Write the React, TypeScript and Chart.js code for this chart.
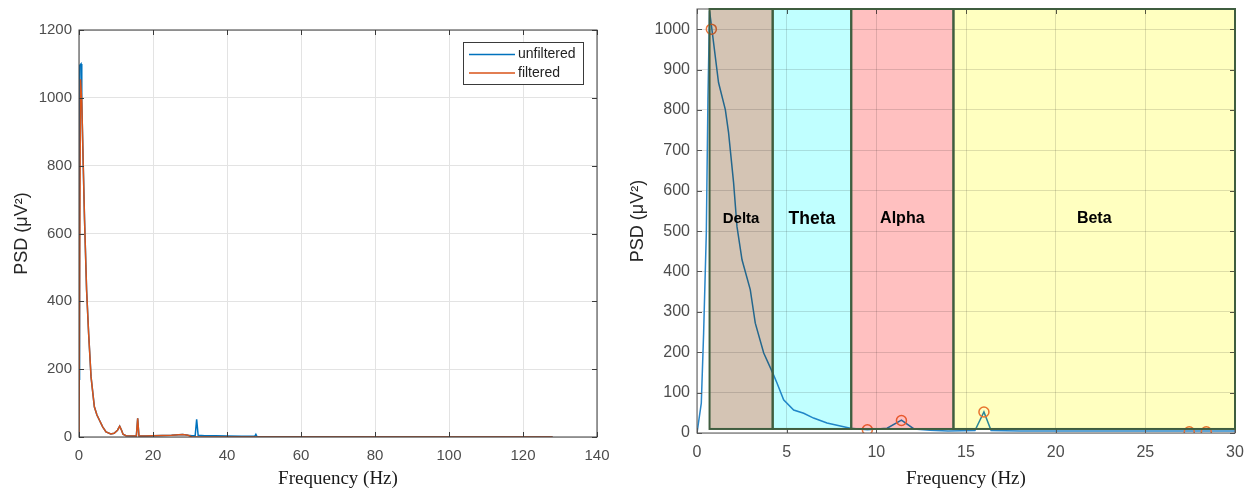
import React, { useEffect, useRef } from 'react';
import { Chart, registerables } from 'chart.js';

Chart.register(...registerables);

// ---------- Left chart data ----------
const leftXTicksMax = 140;
const leftYTicksMax = 1200;

const unfilteredFreq = [0, 0.15, 0.55, 0.75, 1.15, 1.5, 2.05, 2.6, 3.25, 4.15, 4.85, 5.5, 6.4, 7.3, 8.6, 9.5, 10.4, 11.0, 11.5, 11.9, 12.7, 15.5, 15.86, 16.2, 18, 20, 25, 28, 29.5, 30.5, 31.4, 31.8, 32.2, 34, 37, 40, 44, 47.5, 47.8, 48.1, 52, 128];
const unfilteredPsd = [170, 1095, 1100, 990, 800, 640, 434, 306, 178, 89, 65, 50, 30, 15, 9, 11, 20, 32, 20, 8, 4, 3, 55, 3, 3, 4, 5, 7, 5, 4, 4, 52, 5, 4, 4, 3, 2, 2, 8, 1, 0.5, 0];

const filteredFreq = [0, 0.4, 0.75, 1.15, 1.5, 2.05, 2.6, 3.25, 4.15, 4.85, 5.5, 6.4, 7.3, 8.6, 9.5, 10.4, 11.0, 11.5, 11.9, 12.7, 15.5, 15.86, 16.2, 18, 20, 25, 28, 29.5, 30.5, 128];
const filteredPsd = [0, 1055, 990, 800, 640, 434, 306, 178, 89, 65, 50, 30, 15, 9, 11, 20, 32, 20, 8, 4, 3, 55, 3, 3, 4, 5, 7, 5, 0, 0];

const legendLabels = ['unfiltered', 'filtered'];

// ---------- Right chart data ----------
const rightXMax = 30;
const rightYMax = 1050;

const psdFreq = [0, 0.24, 0.37, 0.52, 0.61, 0.7, 0.83, 1.2, 1.58, 1.76, 2.04, 2.23, 2.51, 2.97, 3.25, 3.72, 4.22, 4.46, 4.83, 5.39, 5.95, 6.5, 7.25, 8.55, 9.5, 10.6, 11.4, 12.1, 13, 14, 15.5, 16.0, 16.4, 18, 20, 22, 25, 27, 28, 30];
const psdValue = [0, 74, 248, 496, 826, 1045, 1000, 868, 801, 744, 620, 511, 429, 355, 272, 198, 149, 124, 82, 57, 49, 37, 25, 12, 8, 12, 32, 10, 7, 5, 6, 52, 6, 5, 5, 5, 5, 5, 5, 5];

const peakFreq = [0.8, 9.5, 11.4, 16.0, 27.45, 28.4];
const peakPsd = [1000, 8, 31, 52, 3, 3];

const bandNames = ['Delta', 'Theta', 'Alpha', 'Beta'];
const bandEdges = [0.7, 4.22, 8.6, 14.3, 30];
const bandBottom = 10;
const bandTop = 1050;

// ---------- styles ----------
const SANS = "'Liberation Sans', Arial, Helvetica, sans-serif";
const SERIF = "'Liberation Serif', 'Times New Roman', serif";
const BAND_COLORS = ['#d4c4b4', '#c0ffff', '#ffc0c0', '#ffffc0'];
const BAND_FONT_SIZES = [15, 17.5, 16, 16];

function drawFrame(chart: any, color: string, tickLen: number) {
  const { ctx, chartArea, scales } = chart;
  const { left, right, top, bottom } = chartArea;
  ctx.save();
  ctx.strokeStyle = color;
  ctx.lineWidth = 1;
  ctx.beginPath();
  scales.x.ticks.forEach((t: any) => {
    const px = Math.round(scales.x.getPixelForValue(t.value)) + 0.5;
    ctx.moveTo(px, bottom);
    ctx.lineTo(px, bottom - tickLen);
    ctx.moveTo(px, top);
    ctx.lineTo(px, top + tickLen);
  });
  scales.y.ticks.forEach((t: any) => {
    const py = Math.round(scales.y.getPixelForValue(t.value)) + 0.5;
    ctx.moveTo(left, py);
    ctx.lineTo(left + tickLen, py);
    ctx.moveTo(right, py);
    ctx.lineTo(right - tickLen, py);
  });
  ctx.stroke();
  ctx.strokeRect(left, top, right - left, bottom - top);
  ctx.restore();
}

const leftFramePlugin = {
  id: 'leftFrame',
  afterDraw(chart: any) {
    drawFrame(chart, '#3a3a3a', 5);
    const { ctx, chartArea } = chart;
    const w = 120;
    const h = 42;
    const bx = chartArea.right - 14 - w;
    const by = chartArea.top + 12;
    ctx.save();
    ctx.fillStyle = '#ffffff';
    ctx.fillRect(bx, by, w, h);
    ctx.strokeStyle = '#3a3a3a';
    ctx.lineWidth = 1;
    ctx.strokeRect(bx + 0.5, by + 0.5, w, h);
    ctx.font = `14px ${SANS}`;
    ctx.textBaseline = 'middle';
    ctx.textAlign = 'left';
    legendLabels.forEach((lab, i) => {
      const ds = chart.data.datasets.find((d: any) => d.label === lab);
      const cy = by + 12.5 + i * 18.5;
      ctx.strokeStyle = ds.borderColor;
      ctx.lineWidth = 1.5;
      ctx.beginPath();
      ctx.moveTo(bx + 6, cy);
      ctx.lineTo(bx + 52, cy);
      ctx.stroke();
      ctx.fillStyle = '#222222';
      ctx.fillText(lab, bx + 55, cy);
    });
    ctx.restore();
  },
};

const bandsPlugin = {
  id: 'bands',
  afterDatasetsDraw(chart: any) {
    const { ctx, scales } = chart;
    const { x, y } = scales;
    drawFrame(chart, '#555555', 5);
    ctx.save();
    const yt = y.getPixelForValue(bandTop);
    const yb = y.getPixelForValue(bandBottom);
    ctx.globalCompositeOperation = 'multiply';
    for (let i = 0; i < bandNames.length; i++) {
      const x0 = x.getPixelForValue(bandEdges[i]);
      const x1 = x.getPixelForValue(bandEdges[i + 1]);
      ctx.fillStyle = BAND_COLORS[i];
      ctx.fillRect(x0, yt, x1 - x0, yb - yt);
    }
    ctx.globalCompositeOperation = 'source-over';
    ctx.strokeStyle = '#3f5d3f';
    ctx.lineWidth = 2;
    for (let i = 0; i < bandNames.length; i++) {
      const x0 = x.getPixelForValue(bandEdges[i]);
      const x1 = x.getPixelForValue(bandEdges[i + 1]);
      ctx.strokeRect(x0, yt, x1 - x0, yb - yt);
    }
    ctx.fillStyle = '#000000';
    ctx.textAlign = 'center';
    ctx.textBaseline = 'middle';
    for (let i = 0; i < bandNames.length; i++) {
      const cx = x.getPixelForValue((bandEdges[i] + bandEdges[i + 1]) / 2);
      const cy = y.getPixelForValue((bandTop + bandBottom) / 2);
      ctx.font = `bold ${BAND_FONT_SIZES[i]}px ${SANS}`;
      ctx.fillText(bandNames[i], cx, cy);
    }
    ctx.restore();
  },
};

function zip(xs: number[], ys: number[]) {
  return xs.map((v, i) => ({ x: v, y: ys[i] }));
}

const plainLabel = (v: any) => String(v);
const noPadY = (w: number) => (s: any) => { s.width = w; s.paddingTop = 0; s.paddingBottom = 0; };
const noPadX = (h: number) => (s: any) => { s.height = h; s.paddingLeft = 0; s.paddingRight = 0; };

export default function App() {
  const leftRef = useRef<HTMLCanvasElement>(null);
  const rightRef = useRef<HTMLCanvasElement>(null);

  useEffect(() => {
    document.body.style.margin = '0';
    Chart.defaults.font.family = SANS;

    const tickFont = { family: SANS, size: 15 };
    const left = new Chart(leftRef.current!, {
      type: 'scatter',
      data: {
        datasets: [
          {
            label: 'unfiltered',
            data: zip(unfilteredFreq, unfilteredPsd),
            showLine: true,
            borderColor: '#0072BD',
            borderWidth: 1.5,
            pointRadius: 0,
            order: 2,
          },
          {
            label: 'filtered',
            data: zip(filteredFreq, filteredPsd),
            showLine: true,
            borderColor: '#D95319',
            borderWidth: 1.5,
            pointRadius: 0,
            order: 1,
          },
        ],
      },
      options: {
        animation: false,
        responsive: false,
        maintainAspectRatio: false,
        layout: { padding: { top: 30, right: 23, left: 0, bottom: 0 } },
        plugins: { legend: { display: false }, tooltip: { enabled: false } },
        scales: {
          x: {
            type: 'linear',
            min: 0,
            max: leftXTicksMax,
            ticks: { stepSize: 20, font: tickFont, color: '#4d4d4d', padding: 10, maxRotation: 0, callback: plainLabel },
            grid: { color: '#e3e3e3', drawTicks: false },
            border: { display: false },
            title: { display: true, text: 'Frequency (Hz)', font: { family: SERIF, size: 19 }, color: '#1a1a1a', padding: { top: 0, bottom: 0 } },
            afterFit: noPadX(53),
          },
          y: {
            type: 'linear',
            min: 0,
            max: leftYTicksMax,
            ticks: { stepSize: 200, font: tickFont, color: '#4d4d4d', padding: 7, callback: plainLabel },
            grid: { color: '#e3e3e3', drawTicks: false },
            border: { display: false },
            title: { display: true, text: 'PSD (μV²)', font: { family: SANS, size: 18 }, color: '#262626', padding: { top: 11, bottom: 0 } },
            afterFit: noPadY(79),
          },
        },
      },
      plugins: [leftFramePlugin],
    } as any);

    const right = new Chart(rightRef.current!, {
      type: 'scatter',
      data: {
        datasets: [
          {
            label: 'peaks',
            data: zip(peakFreq, peakPsd),
            pointRadius: 5,
            pointBorderWidth: 1.5,
            borderColor: '#e8743b',
            backgroundColor: 'rgba(0,0,0,0)',
            order: 1,
          },
          {
            label: 'PSD',
            data: zip(psdFreq, psdValue),
            showLine: true,
            borderColor: '#2a86c8',
            borderWidth: 1.5,
            pointRadius: 0,
            order: 2,
          },
        ],
      },
      options: {
        animation: false,
        responsive: false,
        maintainAspectRatio: false,
        layout: { padding: { top: 9, right: 17, left: 0, bottom: 0 } },
        plugins: { legend: { display: false }, tooltip: { enabled: false } },
        scales: {
          x: {
            type: 'linear',
            min: 0,
            max: rightXMax,
            ticks: { stepSize: 5, font: { family: SANS, size: 16 }, color: '#4d4d4d', padding: 10, maxRotation: 0, callback: plainLabel },
            grid: { color: 'rgba(0,0,0,0.13)', drawTicks: false },
            border: { display: false },
            title: { display: true, text: 'Frequency (Hz)', font: { family: SERIF, size: 19 }, color: '#1a1a1a', padding: { top: 0, bottom: 0 } },
            afterFit: noPadX(57),
          },
          y: {
            type: 'linear',
            min: 0,
            max: rightYMax,
            ticks: { stepSize: 100, font: { family: SANS, size: 16 }, color: '#4d4d4d', padding: 7, callback: plainLabel },
            afterBuildTicks: (s: any) => { s.ticks = s.ticks.filter((t: any) => t.value % 100 === 0); },
            grid: { color: 'rgba(0,0,0,0.13)', drawTicks: false },
            border: { display: false },
            title: { display: true, text: 'PSD (μV²)', font: { family: SANS, size: 18 }, color: '#262626', padding: { top: 7, bottom: 0 } },
            afterFit: noPadY(77),
          },
        },
      },
      plugins: [bandsPlugin],
    } as any);

    return () => {
      left.destroy();
      right.destroy();
    };
  }, []);

  return (
    <div style={{ position: 'fixed', left: 0, top: 0, width: 1252, height: 490, background: '#ffffff' }}>
      <canvas ref={leftRef} width={620} height={490} style={{ position: 'absolute', left: 0, top: 0, width: 620, height: 490 }} />
      <canvas ref={rightRef} width={632} height={490} style={{ position: 'absolute', left: 620, top: 0, width: 632, height: 490 }} />
    </div>
  );
}
